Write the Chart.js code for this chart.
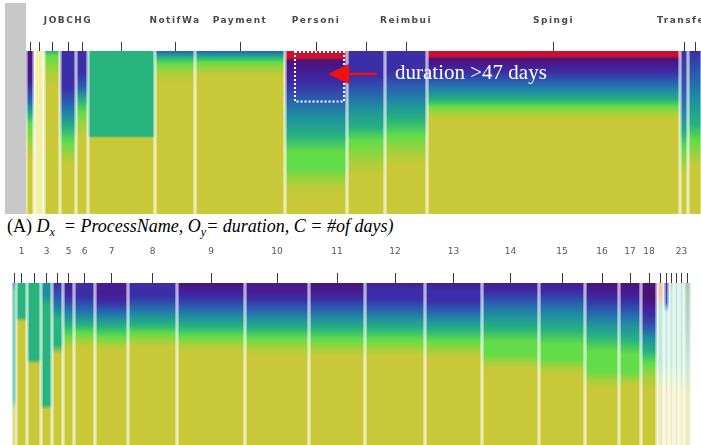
<!DOCTYPE html>
<html>
<head>
<meta charset="utf-8">
<title>ProcessName vs duration</title>
<script src="https://cdn.jsdelivr.net/npm/chart.js@4.4.1/dist/chart.umd.min.js"></script>
<style>
  html, body { margin:0; padding:0; background:#fff; }
  body { width:701px; height:445px; overflow:hidden; position:relative; }
  #grayband { position:absolute; left:5px; top:3px; width:21px; height:211px; background:#c8c8c8; }
  #topWrap { position:absolute; left:26px; top:0; }
  #botWrap { position:absolute; left:12px; top:240px; }
  canvas { display:block; }
  #caption { position:absolute; left:7px; top:217px; font-family:'Liberation Serif','Times New Roman',serif; font-size:18px; line-height:18px; color:#000; white-space:pre; }
  #caption .sub { font-size:12px; position:relative; top:4px; }
  #note { position:absolute; left:395px; top:62px; font-family:'Liberation Serif','Times New Roman',serif; font-size:21px; line-height:21px; color:#fff; white-space:pre; }
</style>
</head>
<body>
<div id="grayband"></div>
<div id="topWrap"><canvas id="topChart" width="676" height="214"></canvas></div>
<div id="botWrap"><canvas id="botChart" width="679" height="205"></canvas></div>
<div id="caption">(A) <i>D<span class="sub">x</span>  = ProcessName, O<span class="sub">y</span>= duration, C = #of days)</i></div>
<div id="note">duration &gt;47 days</div>
<script>
// ---------------- DATA ----------------
// Panel A: one column per process name; width = number of cases
const topLabels = ['', '', '', 'JOBCHG', '', '', 'NotifWa', 'Payment', 'Personi', '', 'Reimbui', 'Spingi', 'Transfer', ''];
const topCounts = [8, 10, 16, 16, 12, 67, 40, 90, 62, 38, 42, 253, 8, 14];
// colour bands per column: [duration position (0 = top, 100 = bottom), colour level]
const topBands = [
  [[0,1],[18,2],[30,4],[39,6],[45,7],[58,8],[66,9]],
  [[0,14],[100,14]],
  [[0,6],[3,7],[12,8],[22,9]],
  [[0,3],[22,3],[32,4],[40,5],[47,6],[56,7],[64,8],[70,9]],
  [[0,3],[13,3],[22,4],[30,6],[38,7],[46,8],[52,9]],
  [[0,6],[52,6],[53.5,9]],
  [[0,4],[2,5],[4,6],[8,7],[13,8],[19,9]],
  [[0,4],[2,5],[4,6],[7,7],[11,8],[16,9]],
  [[0,0],[4,0],[6,1],[12,2],[20,3],[30,4],[40,5],[52,6],[62,7],[72,7],[80,8],[88,9]],
  [[0,3],[15,3],[25,4],[35,5],[47,6],[55,7],[68,8],[76,9]],
  [[0,3],[12,3],[22,4],[32,5],[42,6],[52,7],[62,8],[70,9]],
  [[0,0],[3,0],[5,1],[9,2],[13,3],[19,4],[25,5],[30,6],[34,7],[38,8],[42,9]],
  [[0,3],[25,4],[40,5],[50,6],[60,7],[75,9]],
  [[0,3],[15,4],[30,5],[45,6],[55,7],[70,9]]
];
const annotColumn = 'Personi';
const annotDepth = 31;   // duration > 47 days region

// Panel B: numbered columns
const botLabels = ['', '1', '', '3', '', '5', '6', '7', '8', '9', '10', '11', '12', '13', '14', '15', '16', '17', '18', '', '', '', '', '23', ''];
const botCounts = [4, 11, 14, 11, 11, 11, 21, 33, 49, 68, 64, 56, 60, 57, 57, 46, 34, 22, 16, 7, 5, 5, 5, 5, 7];
const botBands = [
  [[0,4],[6,6],[72,6],[78,9]],
  [[0,6],[21,6],[24,9]],
  [[0,6],[47,6],[50,9]],
  [[0,5],[8,5],[14,6],[75,6],[78,9]],
  [[0,3],[10,4],[17,5],[22,6],[38,6],[44,9]],
  [[0,2],[8,3],[14,4],[20,5],[26,6],[33,7],[40,9]],
  [[0,3],[8,3],[15,4],[21,5],[26,6],[31,7],[36,8],[40,9]],
  [[0,2],[6,2],[12,3],[17,4],[22,5],[27,6],[33,7],[38,8],[42,9]],
  [[0,3],[8,3],[14,4],[20,5],[26,6],[31,7],[36,8],[40,9]],
  [[0,1],[4,2],[9,3],[15,4],[21,5],[27,6],[33,7],[38,8],[42,9]],
  [[0,2],[5,2],[10,3],[16,4],[22,5],[28,6],[34,7],[40,8],[44,9]],
  [[0,1],[5,2],[10,3],[16,4],[22,5],[28,6],[35,7],[41,8],[45,9]],
  [[0,2],[4,3],[10,3],[16,4],[22,5],[28,6],[35,7],[41,8],[45,9]],
  [[0,2],[5,3],[11,3],[17,4],[23,5],[29,6],[36,7],[42,8],[46,9]],
  [[0,2],[6,3],[12,4],[20,5],[28,6],[36,7],[44,7],[49,8],[53,9]],
  [[0,2],[6,3],[12,4],[20,5],[29,6],[38,7],[47,7],[52,8],[57,9]],
  [[0,1],[5,2],[10,3],[17,4],[25,5],[33,6],[42,7],[54,7],[60,8],[65,9]],
  [[0,1],[6,2],[11,3],[18,4],[26,5],[35,6],[44,7],[55,7],[60,8],[63,9]],
  [[0,1],[10,1],[14,2],[20,3],[28,4],[34,5],[42,6],[50,7],[58,8],[66,9]],
  [[0,13],[8,13],[15,10],[50,10],[58,11],[66,12]],
  [[0,3],[12,4],[18,10],[50,10],[58,11],[66,12]],
  [[0,13],[6,10],[50,10],[58,11],[66,12]],
  [[0,10],[50,10],[60,11],[70,12]],
  [[0,10],[50,10],[60,11],[70,12]],
  [[0,15],[50,10],[70,12]]
];

// ---------------- STYLE ----------------
const palette = ['#cc1030','#4c1278','#461c92','#3b2ea6','#2a5fb0','#1f8fa0','#27b27e','#62dc48','#a6d03a','#c8c838',
                 '#c2e8da','#d6efc2','#eeeab8','#f0c4b2','#f1f1a8','#a9c9b2'];

function paleOf(hex, k) {
  const n = parseInt(hex.slice(1), 16);
  const r = (n >> 16) & 255, g = (n >> 8) & 255, b = n & 255;
  const m = v => Math.round(v + (255 - v) * k);
  return 'rgb(' + m(r) + ',' + m(g) + ',' + m(b) + ')';
}

// position of a duration value as a fraction of the value axis (through the library scale)
function depthFraction(chart, v) {
  const yv = chart.scales.yv;
  const p0 = yv.getPixelForValue(yv.min), p1 = yv.getPixelForValue(yv.max);
  return Math.min(1, Math.max(0, (yv.getPixelForValue(v) - p0) / (p1 - p0)));
}

function bandGradient(c, pale) {
  const chart = c.chart;
  const area = chart.chartArea;
  if (!area || !chart.scales.yv) return pale ? '#f2f2d0' : palette[9];
  const g = chart.ctx.createLinearGradient(0, area.top, 0, area.bottom);
  const stops = chart.data.datasets[c.datasetIndex].bands;
  stops.forEach(([v, lvl]) => {
    g.addColorStop(depthFraction(chart, v), pale ? paleOf(palette[lvl], 0.62) : palette[lvl]);
  });
  return g;
}

function makePanel(canvasId, labels, counts, bands, axisCfg, extraPlugins) {
  let acc = 0;
  const centers = [];
  const datasets = counts.map((n, i) => {
    const ds = {
      label: labels[i] || ('col' + i), data: [[acc, acc + n]], bands: bands[i],
      backgroundColor: c => bandGradient(c, false),
      borderColor: c => bandGradient(c, true)
    };
    centers.push(acc + n / 2);
    acc += n;
    return ds;
  });
  return new Chart(document.getElementById(canvasId), {
    type: 'bar',
    data: { labels: ['all'], datasets },
    options: {
      indexAxis: 'y', responsive: false, animation: false, devicePixelRatio: 1,
      layout: { padding: 0 },
      plugins: { legend: { display: false }, tooltip: { enabled: false }, colors: { enabled: false } },
      datasets: { bar: {
        grouped: false, barPercentage: 1, categoryPercentage: 1, inflateAmount: 0,
        borderSkipped: false, borderWidth: { left: 1.5, right: 1.5, top: 0, bottom: 0 }
      } },
      scales: {
        x: {
          type: 'linear', position: 'top', min: 0, max: acc,
          afterBuildTicks: ax => { ax.ticks = centers.map(v => ({ value: v })); },
          afterFit: ax => { ax.height = axisCfg.height; ax.paddingLeft = 0; ax.paddingRight = 0; },
          grid: { drawOnChartArea: false, drawTicks: true, tickLength: axisCfg.tickLength, color: '#3a3a3a', lineWidth: 1 },
          border: { display: false },
          ticks: { autoSkip: false, maxRotation: 0, minRotation: 0, padding: axisCfg.padding,
                   color: axisCfg.color, font: axisCfg.font, callback: (v, i) => labels[i] }
        },
        y: { display: false },
        yv: { type: 'linear', axis: 'y', display: false, min: 0, max: 100, reverse: true }
      }
    },
    plugins: extraPlugins
  });
}

const letterSpacingPlugin = { id: 'spacing', beforeDraw(chart) { chart.ctx.letterSpacing = '1.5px'; } };

const annotationPlugin = {
  id: 'annotation',
  afterDatasetsDraw(chart) {
    const i = topLabels.indexOf(annotColumn);
    const bar = chart.getDatasetMeta(i).data[0];
    const area = chart.chartArea;
    const left = Math.min(bar.base, bar.x) + 10, right = Math.max(bar.base, bar.x) - 3;
    const top = area.top + 1, bottom = area.top + depthFraction(chart, annotDepth) * (area.bottom - area.top);
    const ctx = chart.ctx;
    ctx.save();
    ctx.strokeStyle = '#ffffff'; ctx.lineWidth = 2; ctx.setLineDash([2, 2]);
    ctx.strokeRect(left, top, right - left, bottom - top);
    ctx.setLineDash([]);
    const tipX = right - 16, ay = top + 22;
    ctx.fillStyle = '#f01010'; ctx.strokeStyle = '#f01010';
    ctx.beginPath(); ctx.moveTo(tipX, ay); ctx.lineTo(tipX + 21, ay - 10); ctx.lineTo(tipX + 21, ay + 10); ctx.closePath(); ctx.fill();
    ctx.lineWidth = 2.5; ctx.beginPath(); ctx.moveTo(tipX + 18, ay); ctx.lineTo(tipX + 49, ay); ctx.stroke();
    ctx.restore();
  }
};

makePanel('topChart', topLabels, topCounts, topBands,
  { height: 51, tickLength: 9, padding: 16, color: '#4a4a4a', font: { family: 'DejaVu Sans', size: 9, weight: 'bold' } },
  [letterSpacingPlugin, annotationPlugin]);

makePanel('botChart', botLabels, botCounts, botBands,
  { height: 43, tickLength: 10, padding: 16, color: '#555555', font: { family: 'DejaVu Sans', size: 9 } },
  []);
</script>
</body>
</html>
